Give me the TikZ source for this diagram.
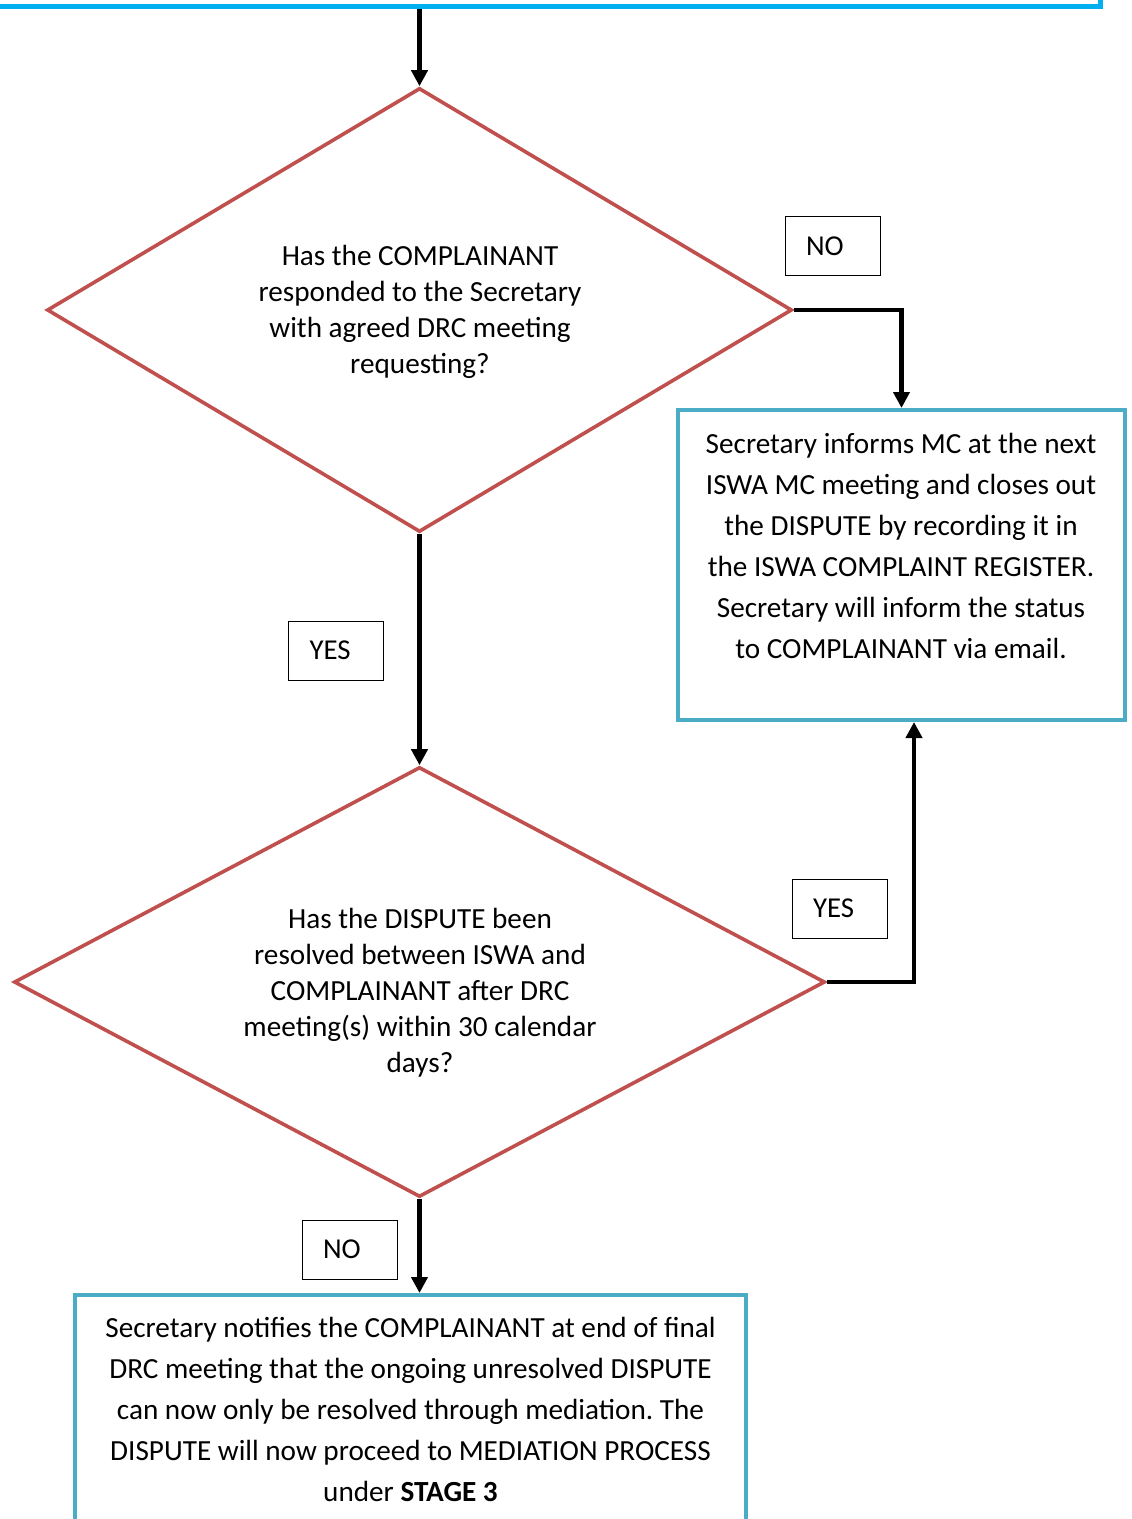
\documentclass[tikz,border=0pt]{standalone}
\usepackage{fontspec}
\setmainfont{Carlito}
\frenchspacing
\usetikzlibrary{shapes.geometric,arrows.meta}

\definecolor{declinered}{HTML}{C0504D}
\definecolor{boxblue}{HTML}{4BACC6}
\definecolor{topblue}{HTML}{00B0F0}

\tikzset{
  decision/.style={diamond, draw=declinered, line width=1.8pt, inner sep=0pt},
  stepbox/.style={rectangle, draw=boxblue, line width=2pt, inner sep=0pt},
  answer/.style={rectangle, draw=black, line width=0.5pt, minimum height=29.5pt,
    text width=26.5pt, inner xsep=10.5pt, align=left,
    font=\fontsize{14.4pt}{17pt}\selectfont},
  words/.style={align=center, font=\fontsize{14.6pt}{18pt}\selectfont},
  boxwords/.style={align=center, font=\fontsize{14.6pt}{20.5pt}\selectfont},
  flow/.style={draw=black, line width=2.2pt, -{Triangle[length=8pt,width=8pt]}},
}

\begin{document}
\begin{tikzpicture}[x=0.5pt, y=-0.5pt]
        \useasboundingbox (0,0) rectangle (1131,1519);
        % boxes and decisions
        \node[stepbox, draw=topblue, line width=2.5pt, minimum width=560pt, minimum height=53.5pt] (prev) at (540,-46.5) {};
        \node[decision, minimum width=372.5pt, minimum height=222pt] (responded) at (419.5,310) {};
        \node[words] (respondedtxt) at (420,311.5) {Has the COMPLAINANT\\responded to the Secretary\\with agreed DRC meeting\\requesting?};
        \node[stepbox, minimum width=223.5pt, minimum height=155pt] (inform) at (901.5,565) {};
        \node[boxwords] (informtxt) at (901,546) {Secretary informs MC at the next\\ISWA MC meeting and closes out\\the DISPUTE by recording it in\\the ISWA COMPLAINT REGISTER.\\Secretary will inform the status\\to COMPLAINANT via email.};
        \node[decision, minimum width=405.5pt, minimum height=215pt] (resolved) at (419.5,982) {};
        \node[words] (resolvedtxt) at (420,993) {Has the DISPUTE been\\resolved between ISWA and\\COMPLAINANT after DRC\\meeting(s) within 30 calendar\\days?};
        \node[stepbox, boxwords, minimum width=335.5pt, minimum height=114.5pt] (mediation) at (410.5,1409.5) {Secretary notifies the COMPLAINANT at end of final\\DRC meeting that the ongoing unresolved DISPUTE\\can now only be resolved through mediation. The\\DISPUTE will now proceed to MEDIATION PROCESS\\under \textbf{STAGE 3}};
        % answers
        \node[answer] (no1) at (832.5,246.5) {NO};
        \node[answer] (yes1) at (336,650.5) {YES};
        \node[answer] (yes2) at (839.5,908.5) {YES};
        \node[answer] (no2) at (349.5,1249.5) {NO};
        % connectors
        \draw[flow] (prev.south -| responded.north) -- (responded.north);
        \draw[flow] (responded.east) -| (inform.north);
        \draw[flow] (responded.south) -- (resolved.north);
        \draw[flow] (resolved.east) -| ([xshift=6.25pt]inform.south);
        \draw[flow] (resolved.south) -- (resolved.south |- mediation.north);
\end{tikzpicture}
\end{document}
